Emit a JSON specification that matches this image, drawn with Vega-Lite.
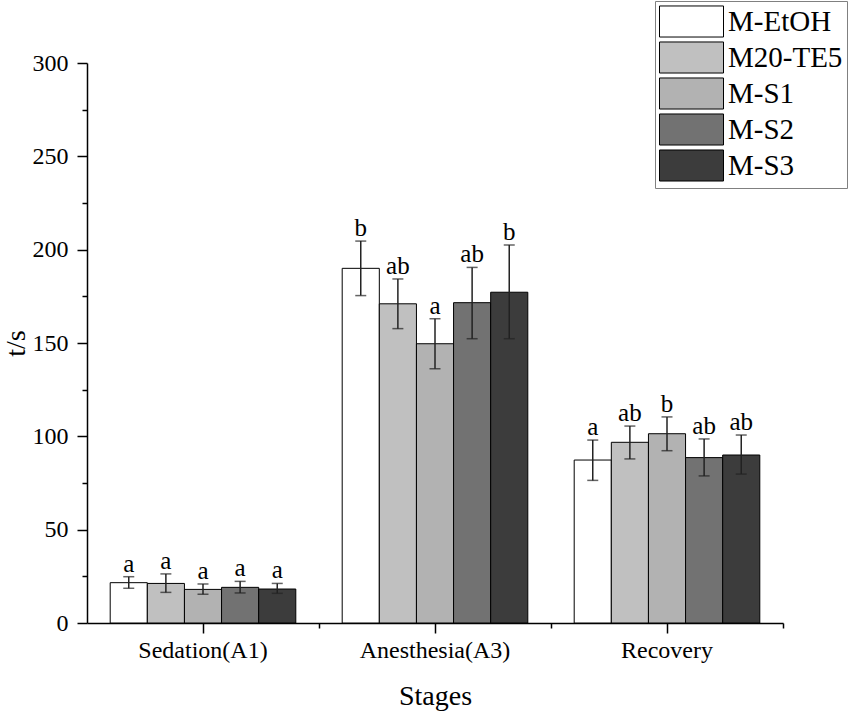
{
  "$schema": "https://vega.github.io/schema/vega-lite/v6.json",
  "width": 696,
  "height": 560,
  "autosize": {"type": "none"},
  "padding": {"left": 87, "top": 63, "right": 68, "bottom": 90},
  "background": "white",
  "config": {
    "view": {"stroke": null},
    "font": "Liberation Serif",
    "axis": {
      "labelColor": "black",
      "titleColor": "black",
      "domainColor": "black",
      "tickColor": "black",
      "grid": false,
      "titleFontWeight": "normal"
    }
  },
  "data": {
    "values": [
      {"stage": "Sedation(A1)", "group": "M-EtOH", "mean": 21.6, "lo": 18.6, "hi": 24.8, "sig": "a"},
      {"stage": "Sedation(A1)", "group": "M20-TE5", "mean": 21.2, "lo": 16.4, "hi": 26.3, "sig": "a"},
      {"stage": "Sedation(A1)", "group": "M-S1", "mean": 18.0, "lo": 15.4, "hi": 20.9, "sig": "a"},
      {"stage": "Sedation(A1)", "group": "M-S2", "mean": 19.1, "lo": 16.1, "hi": 22.3, "sig": "a"},
      {"stage": "Sedation(A1)", "group": "M-S3", "mean": 18.2, "lo": 15.9, "hi": 21.2, "sig": "a"},
      {"stage": "Anesthesia(A3)", "group": "M-EtOH", "mean": 190.0, "lo": 175.4, "hi": 204.6, "sig": "b"},
      {"stage": "Anesthesia(A3)", "group": "M20-TE5", "mean": 171.0, "lo": 157.7, "hi": 184.3, "sig": "ab"},
      {"stage": "Anesthesia(A3)", "group": "M-S1", "mean": 149.6, "lo": 136.2, "hi": 163.0, "sig": "a"},
      {"stage": "Anesthesia(A3)", "group": "M-S2", "mean": 171.6, "lo": 152.3, "hi": 190.5, "sig": "ab"},
      {"stage": "Anesthesia(A3)", "group": "M-S3", "mean": 177.2, "lo": 152.3, "hi": 202.5, "sig": "b"},
      {"stage": "Recovery", "group": "M-EtOH", "mean": 87.3, "lo": 76.4, "hi": 98.0, "sig": "a"},
      {"stage": "Recovery", "group": "M20-TE5", "mean": 96.8, "lo": 87.9, "hi": 105.5, "sig": "ab"},
      {"stage": "Recovery", "group": "M-S1", "mean": 101.4, "lo": 92.3, "hi": 110.4, "sig": "b"},
      {"stage": "Recovery", "group": "M-S2", "mean": 88.6, "lo": 78.8, "hi": 98.6, "sig": "ab"},
      {"stage": "Recovery", "group": "M-S3", "mean": 90.0, "lo": 79.8, "hi": 100.7, "sig": "ab"}
    ]
  },
  "resolve": {"axis": {"x": "independent", "y": "independent"}},
  "layer": [
    {
      "mark": {"type": "bar", "stroke": "black", "strokeWidth": 1},
      "encoding": {
        "x": {
          "field": "stage", "type": "nominal",
          "sort": ["Sedation(A1)", "Anesthesia(A3)", "Recovery"],
          "scale": {"paddingInner": 0.2, "paddingOuter": 0.1},
          "axis": {
            "orient": "bottom",
            "title": "Stages", "titleFontSize": 28, "titlePadding": 20,
            "titleFont": "Liberation Serif", "labelFont": "Liberation Serif",
            "labelFontSize": 24, "labelPadding": 5, "labelAngle": 0,
            "tickSize": 10, "tickWidth": 1.5, "domainWidth": 1.5
          }
        },
        "xOffset": {
          "field": "group", "type": "nominal",
          "sort": ["M-EtOH", "M20-TE5", "M-S1", "M-S2", "M-S3"],
          "scale": {"paddingInner": 0, "paddingOuter": 0}
        },
        "y": {
          "field": "mean", "type": "quantitative",
          "scale": {"domain": [0, 300], "nice": false},
          "axis": {
            "orient": "left",
            "title": "t/s", "titleFontSize": 28, "titlePadding": 2,
            "titleFont": "Liberation Serif", "labelFont": "Liberation Serif",
            "values": [0, 50, 100, 150, 200, 250, 300],
            "labelFontSize": 24, "labelPadding": 9,
            "tickSize": 10, "tickWidth": 1.5, "domainWidth": 1.5
          }
        },
        "fill": {
          "field": "group", "type": "nominal",
          "sort": ["M-EtOH", "M20-TE5", "M-S1", "M-S2", "M-S3"],
          "scale": {"range": ["#ffffff", "#c0c0c0", "#b2b2b2", "#727272", "#3c3c3c"]},
          "legend": {
            "title": null,
            "orient": "none",
            "legendX": 568,
            "legendY": -62,
            "symbolType": "M-1,-0.97H3V0.97H-1Z",
            "symbolSize": 1024,
            "symbolStrokeColor": "black",
            "symbolStrokeWidth": 1,
            "symbolOpacity": 1,
            "labelFont": "Liberation Serif",
            "labelFontSize": 29,
            "labelColor": "black",
            "labelOffset": 36,
            "labelLimit": 300,
            "rowPadding": -1,
            "padding": 4,
            "strokeColor": "#808080",
            "fillColor": "white"
          }
        }
      }
    },
    {
      "mark": {"type": "rule", "color": "#222222", "strokeWidth": 1.5},
      "encoding": {
        "x": {
          "field": "stage", "type": "nominal",
          "sort": ["Sedation(A1)", "Anesthesia(A3)", "Recovery"],
          "axis": {
            "orient": "bottom",
            "title": null, "labels": false, "domain": false,
            "ticks": true, "bandPosition": 1.125,
            "tickSize": 5, "tickWidth": 1.5, "tickColor": "black"
          }
        },
        "xOffset": {
          "field": "group", "type": "nominal",
          "sort": ["M-EtOH", "M20-TE5", "M-S1", "M-S2", "M-S3"]
        },
        "y": {
          "field": "lo", "type": "quantitative",
          "axis": {
            "orient": "left",
            "title": null, "labels": false, "domain": false,
            "values": [25, 75, 125, 175, 225, 275],
            "tickSize": 5, "tickWidth": 1.5
          }
        },
        "y2": {"field": "hi"}
      }
    },
    {
      "mark": {"type": "tick", "color": "#222222", "size": 11, "thickness": 1.5},
      "encoding": {
        "x": {"field": "stage", "type": "nominal", "sort": ["Sedation(A1)", "Anesthesia(A3)", "Recovery"], "axis": null},
        "xOffset": {"field": "group", "type": "nominal", "sort": ["M-EtOH", "M20-TE5", "M-S1", "M-S2", "M-S3"]},
        "y": {"field": "hi", "type": "quantitative", "axis": null}
      }
    },
    {
      "mark": {"type": "tick", "color": "#222222", "size": 11, "thickness": 1.5},
      "encoding": {
        "x": {"field": "stage", "type": "nominal", "sort": ["Sedation(A1)", "Anesthesia(A3)", "Recovery"], "axis": null},
        "xOffset": {"field": "group", "type": "nominal", "sort": ["M-EtOH", "M20-TE5", "M-S1", "M-S2", "M-S3"]},
        "y": {"field": "lo", "type": "quantitative", "axis": null}
      }
    },
    {
      "mark": {"type": "text", "font": "Liberation Serif", "fontSize": 25, "color": "black", "baseline": "alphabetic", "dy": -5},
      "encoding": {
        "x": {"field": "stage", "type": "nominal", "sort": ["Sedation(A1)", "Anesthesia(A3)", "Recovery"], "axis": null},
        "xOffset": {"field": "group", "type": "nominal", "sort": ["M-EtOH", "M20-TE5", "M-S1", "M-S2", "M-S3"]},
        "y": {"field": "hi", "type": "quantitative", "axis": null},
        "text": {"field": "sig"}
      }
    }
  ]
}
